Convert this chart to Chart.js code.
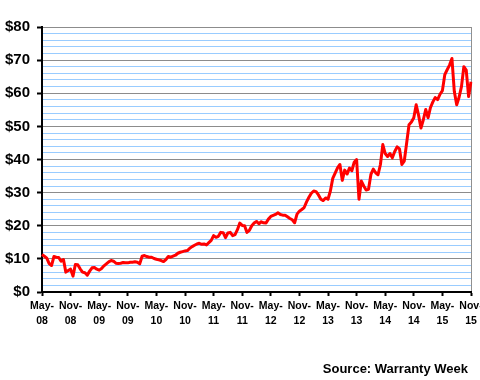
<!DOCTYPE html>
<html><head><meta charset="utf-8">
<script src="https://cdn.jsdelivr.net/npm/chart.js@4"></script>
<style>html,body{margin:0;padding:0;background:#fff}#wrap{width:480px;height:380px}</style>
</head><body><div id="wrap"><canvas id="c" width="480" height="380"></canvas></div>
<script>
// Semi-monthly share price, May 2008 - Nov 2015
const startYear = 2008;
const startMonth = 4; // May (0-based)
const prices = [
  11.3, 10.8, 10.2, 8.6, 8.0, 10.7, 10.5, 10.4, 9.3, 9.8,
  6.0, 6.5, 6.9, 4.8, 8.3, 8.2, 7.0, 6.0, 5.8, 5.1,
  6.3, 7.3, 7.4, 6.9, 6.6, 7.1, 7.9, 8.5, 9.1, 9.5,
  9.3, 8.7, 8.6, 8.7, 8.9, 8.8, 8.8, 9.0, 9.0, 9.1,
  9.0, 8.5, 10.8, 11.0, 10.7, 10.5, 10.5, 10.1, 9.9, 9.7,
  9.5, 9.2, 9.8, 10.7, 10.5, 10.8, 11.1, 11.7, 12.0, 12.2,
  12.4, 12.5, 13.2, 13.7, 14.1, 14.5, 14.7, 14.4, 14.5, 14.2,
  14.9, 15.6, 17.0, 16.5, 16.8, 18.0, 17.9, 16.4, 17.8, 18.0,
  17.0, 17.3, 18.8, 20.8, 20.1, 20.0, 18.0, 18.6, 20.0, 20.8,
  21.3, 20.6, 21.2, 20.9, 20.8, 22.0, 22.8, 23.1, 23.4, 23.9,
  23.4, 23.2, 23.2, 22.7, 22.2, 21.8, 20.9, 23.5, 24.4, 24.9,
  25.5, 27.2, 28.6, 29.8, 30.5, 30.3, 29.3, 28.0, 27.6, 28.4,
  28.0, 30.5, 34.3, 35.9, 37.5, 38.5, 33.7, 36.8, 35.6, 37.4,
  36.6, 39.2, 40.0, 28.0, 33.5, 32.0, 30.8, 31.0, 35.5, 37.1,
  36.0, 35.4, 38.5, 44.5, 41.8, 40.9, 41.8, 40.5, 42.4, 43.8,
  43.2, 38.5, 39.5, 45.0, 50.5, 51.3, 52.6, 56.5, 53.4, 49.5,
  52.0, 55.1, 52.6, 55.7, 57.4, 58.7, 58.1, 59.7, 60.8, 65.6,
  67.1, 68.5, 70.5, 60.5, 56.5, 58.8, 62.0, 68.0, 67.0, 59.0, 63.5
];
const tickLabels = [
  ['May-','08'],['Nov-','08'],['May-','09'],['Nov-','09'],
  ['May-','10'],['Nov-','10'],['May-','11'],['Nov-','11'],
  ['May-','12'],['Nov-','12'],['May-','13'],['Nov-','13'],
  ['May-','14'],['Nov-','14'],['May-','15'],['Nov-','15']
];
const yMin = 0, yMax = 80, yMinorStep = 2, yMajorStep = 10;
const sourceText = 'Source: Warranty Week';
const PER_TICK = 12; // semi-monthly points per 6 months

const monthNames = ['Jan','Feb','Mar','Apr','May','Jun','Jul','Aug','Sep','Oct','Nov','Dec'];
const periods = prices.map((_, i) => {
  const mAbs = startMonth + Math.floor(i / 2);
  const y = startYear + Math.floor(mAbs / 12);
  return monthNames[mAbs % 12] + ' ' + y + (i % 2 ? ' (15)' : ' (1)');
});
const lastIdx = prices.length - 1;
const FONT = "'Liberation Sans', Arial, sans-serif";

const sourcePlugin = {
  id: 'sourceNote',
  afterDraw(chart) {
    const ctx = chart.ctx;
    ctx.save();
    ctx.font = 'bold 13px ' + FONT;
    ctx.fillStyle = '#000';
    ctx.textAlign = 'right';
    ctx.textBaseline = 'middle';
    ctx.fillText(sourceText, chart.width - 12, 369);
    ctx.restore();
  }
};

new Chart(document.getElementById('c').getContext('2d'), {
  type: 'line',
  data: {
    labels: periods,
    datasets: [{
      data: prices,
      borderColor: '#ff0000',
      borderWidth: 3,
      pointRadius: 0,
      tension: 0,
      fill: false,
      borderJoinStyle: 'round'
    }]
  },
  plugins: [sourcePlugin],
  options: {
    responsive: false,
    animation: false,
    layout: { padding: { left: 0, right: 9, top: 27, bottom: 43 } },
    plugins: {
      legend: { display: false },
      tooltip: { enabled: false },
      title: { display: false }
    },
    scales: {
      x: {
        type: 'category',
        offset: false,
        afterBuildTicks: s => { s.ticks = s.ticks.filter(t => t.value % PER_TICK === 0); },
        grid: {
          drawOnChartArea: true,
          color: c => (c.tick && c.tick.value === lastIdx ? '#909090' : 'rgba(0,0,0,0)'),
          tickColor: '#000',
          tickLength: 4, tickWidth: 2, lineWidth: 1
        },
        border: { color: '#000', width: 2 },
        ticks: {
          autoSkip: false, maxRotation: 0, minRotation: 0, color: '#000',
          font: { family: FONT, size: 10.5, weight: 'bold', lineHeight: 1.4 },
          padding: 3,
          callback: v => tickLabels[Math.round(v / PER_TICK)]
        },
        afterFit: s => { s.height = 45; s.paddingLeft = 0; s.paddingRight = 0; }
      },
      y: {
        min: yMin, max: yMax,
        ticks: {
          stepSize: yMinorStep, autoSkip: false, color: '#000',
          font: { family: FONT, size: 15, weight: 'bold' },
          padding: 7,
          callback: v => (v % yMajorStep === 0 ? '$' + v : '')
        },
        grid: {
          color: c => (c.tick.value % yMajorStep === 0 ? '#8c8c8c' : '#99ccff'),
          tickColor: c => (c.tick.value % yMajorStep === 0 ? '#000' : 'rgba(0,0,0,0)'),
          tickLength: 5, tickWidth: 2, lineWidth: 1
        },
        border: { color: '#000', width: 2 },
        afterFit: s => { s.width = 42; s.paddingTop = 0; s.paddingBottom = 0; }
      }
    }
  }
});
</script>
</body></html>
